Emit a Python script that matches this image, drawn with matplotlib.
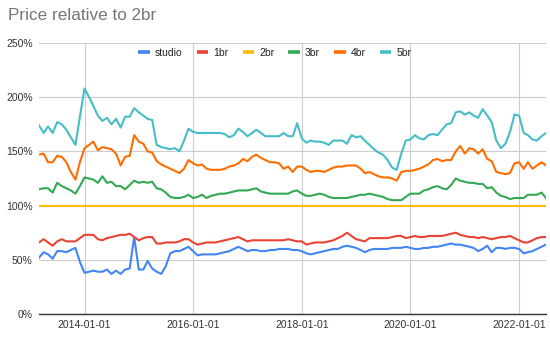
import matplotlib
matplotlib.use("Agg")
import matplotlib.pyplot as plt
import matplotlib.dates as mdates
from matplotlib.lines import Line2D
from matplotlib.ticker import FuncFormatter
import pandas as pd

plt.rcParams['font.family'] = ['Liberation Sans', 'DejaVu Sans']

dates = pd.date_range('2013-03-01', periods=113, freq='MS')

studio = [52, 57, 55, 51, 58, 58, 57, 59, 61, 48,
          38, 39, 40, 39, 39, 41, 37, 40, 37, 41, 42, 71,
          41, 41, 49, 42, 39, 37, 44, 56, 58, 58, 60, 62,
          58, 54, 55, 55, 55, 55, 56, 57, 58, 60, 62, 60,
          58, 59, 59, 58, 58, 59, 59, 60, 60, 60, 59, 59,
          58, 56, 55, 56, 57, 58, 59, 60, 60, 62, 63, 62,
          61, 59, 57, 59, 60, 60, 60, 60, 61, 61, 61, 62,
          61, 60, 60, 61, 61, 62, 62, 63, 64, 65, 64, 64,
          63, 62, 61, 58, 60, 63, 57, 61, 61, 60, 61, 61,
          60, 56, 57, 58, 60, 62, 64]
br1 = [66, 69, 66, 63, 67, 69, 67, 67, 67, 70,
       73, 73, 73, 69, 68, 70, 71, 72, 73, 73, 74, 71,
       68, 70, 71, 71, 65, 65, 66, 66, 66, 67, 69, 69,
       66, 64, 65, 66, 66, 66, 67, 68, 69, 70, 71, 69,
       67, 68, 68, 68, 68, 68, 68, 68, 68, 69, 68, 67,
       67, 64, 65, 66, 66, 66, 67, 68, 70, 72, 75, 72,
       69, 68, 67, 70, 70, 70, 70, 70, 71, 72, 72, 70,
       71, 72, 71, 71, 72, 72, 72, 72, 73, 74, 75, 73,
       72, 71, 71, 70, 71, 70, 69, 70, 71, 71, 72, 70,
       68, 66, 66, 68, 70, 71, 71]
br2 = [100] * 113
br3 = [115, 116, 116, 112, 121, 118, 116, 114, 111, 118,
       126, 125, 124, 121, 127, 121, 122, 118, 118, 115, 119, 123,
       121, 122, 121, 122, 116, 115, 112, 108, 107, 107, 108, 110,
       107, 108, 110, 107, 109, 110, 111, 111, 112, 113, 114, 114,
       114, 115, 116, 113, 112, 111, 111, 111, 111, 111, 113, 114,
       111, 109, 109, 110, 111, 110, 108, 107, 107, 107, 107, 108,
       109, 110, 110, 111, 110, 109, 108, 106, 105, 105, 105, 108,
       111, 111, 111, 114, 115, 117, 118, 116, 115, 119, 125, 123,
       122, 121, 121, 120, 120, 116, 117, 112, 109, 108, 106, 107,
       107, 107, 110, 110, 110, 112, 107]
br4 = [147, 148, 140, 140, 146, 145, 140, 131, 124, 140,
       153, 156, 159, 151, 154, 153, 152, 148, 137, 145, 146, 165,
       159, 157, 150, 149, 141, 138, 136, 134, 132, 130, 134, 142,
       139, 137, 138, 134, 133, 133, 133, 134, 136, 137, 139, 143,
       141, 145, 147, 144, 142, 140, 140, 139, 134, 136, 131, 136,
       136, 133, 131, 132, 132, 131, 133, 135, 136, 136, 137, 137,
       137, 134, 130, 131, 129, 127, 126, 126, 125, 123, 131, 132,
       132, 133, 134, 136, 138, 142, 143, 141, 142, 142, 150, 155,
       148, 153, 152, 148, 152, 143, 141, 131, 130, 129, 130, 139,
       140, 134, 140, 134, 137, 140, 137]
br5 = [174, 167, 173, 167, 177, 175, 170, 163, 156, 182,
       208, 200, 192, 183, 178, 181, 175, 180, 172, 182, 182, 190,
       186, 183, 180, 179, 156, 154, 153, 152, 153, 150, 160, 171,
       168, 167, 167, 167, 167, 167, 167, 166, 163, 165, 171, 168,
       164, 167, 170, 167, 164, 164, 164, 164, 167, 164, 164, 176,
       162, 158, 160, 159, 159, 158, 156, 160, 160, 160, 157, 165,
       163, 164, 160, 156, 152, 149, 147, 142, 135, 133, 148, 160,
       161, 165, 162, 161, 165, 166, 165, 170, 175, 176, 186, 187,
       184, 186, 183, 181, 189, 183, 177, 160, 153, 157, 168, 184,
       183, 167, 165, 161, 160, 164, 167]

labels = ['studio', '1br', '2br', '3br', '4br', '5br']
series = [studio, br1, br2, br3, br4, br5]
colors = ['#4285F4', '#EA4335', '#FBBC04', '#34A853', '#FF6D01', '#46BDC6']
yticks = [0, 50, 100, 150, 200, 250]
xticks = ['2014-01-01', '2016-01-01', '2018-01-01', '2020-01-01', '2022-01-01']

fig = plt.figure(figsize=(5.5, 3.37), dpi=100)
ax = fig.add_axes([39/550, 1-314/337, (546-39)/550, (314-43)/337])

for vals, lab, col in zip(series, labels, colors):
    ax.plot(dates, vals, color=col, lw=1.5, label=lab, solid_joinstyle='round')

ax.set_ylim(0, 250)
ax.set_xlim(dates[0], dates[-1])
ax.set_yticks(yticks)
ax.yaxis.set_major_formatter(FuncFormatter(lambda v, p: f"{int(v)}%"))
ax.set_xticks(pd.to_datetime(xticks))
ax.xaxis.set_major_formatter(mdates.DateFormatter('%Y-%m-%d'))
ax.grid(True, color='#cccccc', lw=0.8)
ax.set_axisbelow(True)
for s in ['top', 'right', 'left']:
    ax.spines[s].set_visible(False)
ax.spines['bottom'].set_color('#333333')
ax.spines['bottom'].set_linewidth(1.0)
ax.spines['bottom'].set_zorder(1.5)
ax.tick_params(axis='both', length=0, labelsize=7.5, colors='#333333')
ax.tick_params(axis='y', pad=4.5)
ax.tick_params(axis='x', pad=4)

fig.text(8/550, 1-16/337, 'Price relative to 2br', fontsize=12.3,
         color='#757575', va='center', ha='left')

handles = [Line2D([0], [0], color=c, lw=2.6, solid_capstyle='butt') for c in colors]
fig.legend(handles, labels, loc='center', bbox_to_anchor=(0.5, 1-53/337),
           ncol=6, frameon=False, handlelength=1.1, handletextpad=0.5,
           columnspacing=1.35, fontsize=7.5, labelcolor='#222222')

fig.savefig('out.png', dpi=100)
